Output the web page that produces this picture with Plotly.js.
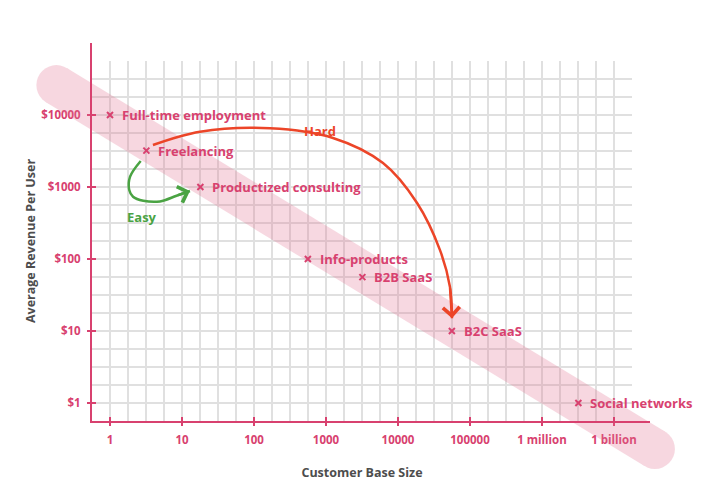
<!DOCTYPE html>
<html>
<head>
<meta charset="utf-8">
<script src="https://cdn.plot.ly/plotly-3.0.1.min.js"></script>
<style>
  html, body { margin: 0; padding: 0; background: #fff; }
  #chart { width: 720px; height: 495px; }
</style>
</head>
<body>
<div id="chart"></div>
<script>
var models = ['Full-time employment', 'Freelancing', 'Productized consulting', 'Info-products', 'B2B SaaS', 'B2C SaaS', 'Social networks'];
var customers = [1, 3.2, 18, 560, 3200, 56000, 3.2e6];
var revenue = [10000, 3200, 1000, 100, 56, 10, 1];

var xTicks = [1, 10, 100, 1000, 10000, 100000, 1e6, 1e7];
var xTickText = ['1', '10', '100', '1000', '10000', '100000', '1 million', '1 billion'];
var yTicks = [1, 10, 100, 1000, 10000];
var yTickText = ['$1', '$10', '$100', '$1000', '$10000'];

// the pink trend band, just its two ends
var bandX = [0.18, 3.7e7];
var bandY = [26000, 0.23];

// hand drawn arrows
var hardX = [3.95, 17.8, 167, 1250, 6190, 18400, 38300, 52700, 56200];
var hardY = [3830, 5860, 6530, 4800, 2150, 600, 133, 40.8, 15];
var easyX = [2.67, 1.9, 1.85, 2.09, 2.9, 4.95, 8.4, 12.9];
var easyY = [2300, 1390, 909, 733, 645, 631, 757, 880];
var arrowLabels = ['Hard', 'Easy'];
var arrowLabelX = [830, 2.8];
var arrowLabelY = [6000, 380];

var pink = '#d8416f';
var red = '#ec4528';
var green = '#4aa343';
var gridColor = '#e0e0e0';
var font = 'Open Sans, Lato, sans-serif';

// page is 720x495, one decade = 72px, x=1 sits at 110px, y=$1 at 403px
var W = 720, H = 495, K = 72, X0 = 110, Y0 = 403;
function xDom(lo, hi) { return [(X0 + K * lo) / W, (X0 + K * hi) / W]; }
function yDom(lo, hi) { return [1 - (Y0 - K * lo) / H, 1 - (Y0 - K * hi) / H]; }

// quarter decade grid
var xMinor = [], yMinor = [];
for (var k = -1; k <= 29; k++) if (k % 4) xMinor.push(Math.pow(10, k / 4));
for (var k = -1; k <= 19; k++) if (k % 4) yMinor.push(Math.pow(10, k / 4));

var band = {
  x: bandX, y: bandY, xaxis: 'x2', yaxis: 'y2',
  mode: 'lines+markers',
  line: {color: '#e2708f', width: 40},
  marker: {color: '#e2708f', size: 40, line: {width: 0}},
  opacity: 0.27,
  hoverinfo: 'skip'
};

var hard = {
  x: hardX, y: hardY, xaxis: 'x2', yaxis: 'y2',
  mode: 'lines',
  line: {color: red, width: 2.5, shape: 'spline'},
  hoverinfo: 'skip'
};

var easy = {
  x: easyX, y: easyY, xaxis: 'x2', yaxis: 'y2',
  mode: 'lines',
  line: {color: green, width: 2.5, shape: 'spline'},
  hoverinfo: 'skip'
};

var points = {
  x: customers, y: revenue, xaxis: 'x2', yaxis: 'y2',
  mode: 'markers',
  marker: {symbol: 'x-thin', size: 6, line: {color: pink, width: 2}},
  hoverinfo: 'skip'
};

// empty traces so the grid axes and the line axes get drawn
var gridHolder = {x: [], y: [], xaxis: 'x', yaxis: 'y', mode: 'markers'};
var lineHolder = {x: [], y: [], xaxis: 'x3', yaxis: 'y3', mode: 'markers'};

var labelFont = {family: font, size: 13, color: pink, weight: 'bold'};

var annotations = models.map(function(m, i) {
  return {
    xref: 'x2', yref: 'y2',
    x: Math.log10(customers[i]), y: Math.log10(revenue[i]),
    text: m, showarrow: false,
    xanchor: 'left', yanchor: 'middle', xshift: 10,
    font: labelFont
  };
});

function arrowHead(xs, ys, color) {
  var n = xs.length;
  return {
    xref: 'x2', yref: 'y2', axref: 'x2', ayref: 'y2',
    x: Math.log10(xs[n - 1]), y: Math.log10(ys[n - 1]),
    ax: Math.log10(xs[n - 2]), ay: Math.log10(ys[n - 2]),
    text: '', showarrow: true,
    arrowhead: 4, arrowsize: 1.3, arrowwidth: 2.5, arrowcolor: color, standoff: 0
  };
}
annotations.push(arrowHead(hardX, hardY, red));
annotations.push(arrowHead(easyX, easyY, green));

[red, green].forEach(function(c, i) {
  annotations.push({
    xref: 'x2', yref: 'y2',
    x: Math.log10(arrowLabelX[i]), y: Math.log10(arrowLabelY[i]),
    text: arrowLabels[i], showarrow: false,
    font: {family: font, size: 13, color: c, weight: 'bold'}
  });
});

var tickFont = {family: font, size: 11.5, color: pink, weight: 'bold'};
var titleFont = {family: font, size: 12.5, color: '#4d4d4d', weight: 'bold'};

var layout = {
  width: W, height: H,
  margin: {l: 0, r: 0, t: 0, b: 0},
  paper_bgcolor: '#ffffff',
  plot_bgcolor: 'rgba(0,0,0,0)',
  showlegend: false,
  hovermode: false,
  xaxis: {
    type: 'log', domain: xDom(-0.25, 7.25), range: [-0.25, 7.25], anchor: 'y',
    tickmode: 'array', tickvals: xTicks, ticktext: xTickText,
    ticks: 'outside', ticklen: 4, tickwidth: 2, tickcolor: pink,
    tickfont: tickFont, ticklabelstandoff: 4,
    showline: false, zeroline: false,
    showgrid: true, gridcolor: gridColor, gridwidth: 1.3,
    minor: {tickvals: xMinor, showgrid: true, gridcolor: gridColor, gridwidth: 1.3, ticks: ''},
    title: {text: 'Customer Base Size', font: titleFont, standoff: 22}
  },
  yaxis: {
    type: 'log', domain: yDom(-0.25, 4.75), range: [-0.25, 4.75], anchor: 'x',
    tickmode: 'array', tickvals: yTicks, ticktext: yTickText,
    ticks: 'outside', ticklen: 4, tickwidth: 2, tickcolor: pink,
    tickfont: tickFont, ticklabelstandoff: 4,
    showline: false, zeroline: false,
    showgrid: true, gridcolor: gridColor, gridwidth: 1.3,
    minor: {tickvals: yMinor, showgrid: true, gridcolor: gridColor, gridwidth: 1.3, ticks: ''},
    title: {text: 'Average Revenue Per User', font: titleFont, standoff: 2}
  },
  // full page axes with the same scale, the band and marks live here
  xaxis2: {
    type: 'log', domain: [0, 1], range: [-X0 / K, (W - X0) / K], anchor: 'y2', visible: false
  },
  yaxis2: {
    type: 'log', domain: [0, 1], range: [(Y0 - H) / K, Y0 / K], anchor: 'x2', visible: false
  },
  // axis lines run a bit past the grid
  xaxis3: {
    type: 'log', domain: xDom(-0.25, 7.5), range: [-0.25, 7.5], anchor: 'y3',
    tickmode: 'array', tickvals: xTicks, showticklabels: false,
    ticks: 'inside', ticklen: 4, tickwidth: 2, tickcolor: pink,
    showline: true, linecolor: pink, linewidth: 2,
    showgrid: false, zeroline: false
  },
  yaxis3: {
    type: 'log', domain: yDom(-0.25, 5.0), range: [-0.25, 5.0], anchor: 'x3',
    tickmode: 'array', tickvals: yTicks, showticklabels: false,
    ticks: 'inside', ticklen: 4, tickwidth: 2, tickcolor: pink,
    showline: true, linecolor: pink, linewidth: 2,
    showgrid: false, zeroline: false
  },
  annotations: annotations
};

Plotly.newPlot('chart', [gridHolder, band, hard, easy, points, lineHolder], layout, {displayModeBar: false, staticPlot: true});
</script>
</body>
</html>
